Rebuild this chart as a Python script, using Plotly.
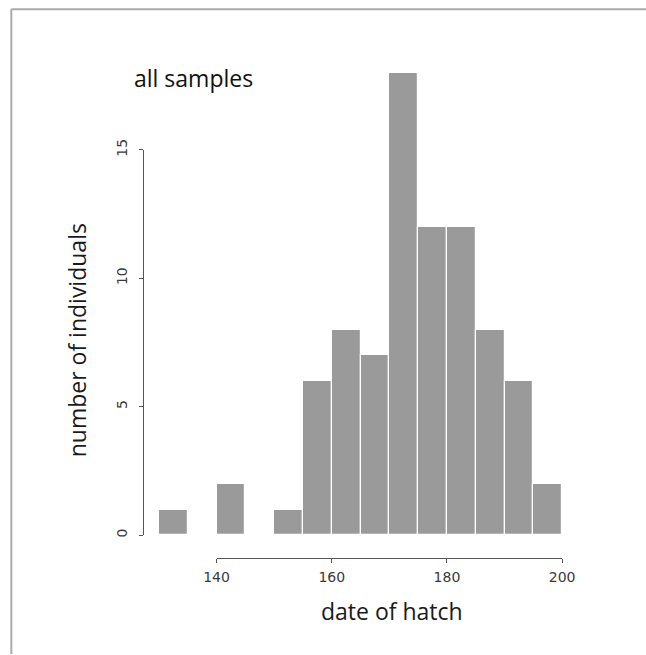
import plotly.graph_objects as go

# Data
bin_edges_left = [130, 135, 140, 145, 150, 155, 160, 165, 170, 175, 180, 185, 190, 195]
bin_width = 5
counts = [1, 0, 2, 0, 1, 6, 8, 7, 18, 12, 12, 8, 6, 2]
x_ticks = [140, 160, 180, 200]
y_ticks = [0, 5, 10, 15]
x_title = "date of hatch"
y_title = "number of individuals"
panel_label = "all samples"

# Effective captured page (body keeps its default 8px margin); the capture is
# scaled to the 646x655 picture.  Small empirical offset correction included.
IMG_W, IMG_H = 646, 655
PAGE_W, PAGE_H, BODY = 666, 670, 8
SX, SY = IMG_W / PAGE_W, IMG_H / PAGE_H
W, H = PAGE_W - 2 * BODY, PAGE_H - 2 * BODY
CX_A, CX_B = 5.0, 0.99   # observed: shown_x ~ CX_A + CX_B * intended_x
CY_A = 3.0               # observed: shown_y ~ CY_A + intended_y


def fx(p):  # reference picture x (px) -> paper fraction
    q = (p - CX_A) / CX_B
    return (q / SX - BODY) / W


def fy(p):  # reference picture y from top (px) -> paper fraction
    q = p - CY_A
    return 1 - (q / SY - BODY) / H


# reference geometry (pixels of the reference picture)
px_x140, px_x200 = 216.3, 562.0
px_y0, px_y15 = 533.7, 149.3
fx0, fx1 = fx(px_x140), fx(px_x200)
fy0, fy1 = fy(px_y0), fy(px_y15)
kx = (x_ticks[-1] - x_ticks[0]) / (fx1 - fx0)
ky = (y_ticks[-1] - y_ticks[0]) / (fy1 - fy0)
xr = [x_ticks[0] - fx0 * kx, x_ticks[0] + (1 - fx0) * kx]
yr = [y_ticks[0] - fy0 * ky, y_ticks[0] + (1 - fy0) * ky]

centers = [e + bin_width / 2 for e in bin_edges_left]

fig = go.Figure()
fig.add_trace(go.Bar(
    x=centers, y=counts, width=[bin_width] * len(counts),
    marker=dict(color="#9a9a9a", line=dict(color="white", width=1.2)),
    xaxis="x", yaxis="y", hoverinfo="skip", showlegend=False,
))
# invisible trace carrying the R-style axes
fig.add_trace(go.Scatter(x=[x_ticks[0], x_ticks[-1]], y=[y_ticks[0], y_ticks[-1]],
                         mode="markers", marker=dict(opacity=0),
                         xaxis="x2", yaxis="y2", hoverinfo="skip", showlegend=False))

tickfont = dict(family="DejaVu Sans, sans-serif", size=14, color="#3a3a3a")
axis_color = "#555555"
fig.update_layout(
    width=W, height=H,
    margin=dict(l=0, r=0, t=0, b=0, pad=0),
    paper_bgcolor="white", plot_bgcolor="rgba(0,0,0,0)",
    bargap=0,
    xaxis=dict(domain=[0, 1], range=xr, visible=False, fixedrange=True),
    yaxis=dict(domain=[0, 1], range=yr, visible=False, fixedrange=True),
    xaxis2=dict(domain=[fx0, fx1], range=[x_ticks[0], x_ticks[-1]],
                anchor="free", position=fy(556), showline=True, linecolor=axis_color,
                linewidth=1, ticks="outside", ticklen=4, tickcolor=axis_color,
                tickvals=x_ticks, ticktext=[str(v) for v in x_ticks], tickfont=tickfont,
                showgrid=False, zeroline=False, ticklabelstandoff=3, fixedrange=True),
    yaxis2=dict(domain=[fy0, fy1], range=[y_ticks[0], y_ticks[-1]],
                anchor="free", position=fx(143), showline=True, linecolor=axis_color,
                linewidth=1, ticks="outside", ticklen=4, tickcolor=axis_color,
                tickvals=y_ticks, ticktext=[str(v) for v in y_ticks], tickfont=tickfont,
                tickangle=-90, showgrid=False, zeroline=False, ticklabelstandoff=7,
                fixedrange=True),
    showlegend=False,
)

titlefont = dict(family="Open Sans, sans-serif", size=23, color="#1a1a1a")
fig.add_annotation(text=x_title, xref="paper", yref="paper", x=fx(391.5), y=fy(609),
                   showarrow=False, font=titlefont, xanchor="center", yanchor="middle")
fig.add_annotation(text=y_title, xref="paper", yref="paper", x=fx(77), y=fy(339),
                   showarrow=False, font=titlefont, textangle=-90, xanchor="center", yanchor="middle")
fig.add_annotation(text=panel_label, xref="paper", yref="paper", x=fx(132), y=fy(78),
                   showarrow=False, font=dict(family="Open Sans, sans-serif", size=23, color="#111111"),
                   xanchor="left", yanchor="middle")

# outer frame (partially visible)
frame = dict(color="#aaaaaa", width=2)
fig.add_shape(type="line", xref="paper", yref="paper", x0=fx(11), x1=fx(11), y0=-0.02, y1=fy(9),
              line=frame)
fig.add_shape(type="line", xref="paper", yref="paper", x0=fx(11), x1=1.02, y0=fy(9), y1=fy(9),
              line=frame)

fig.write_html("out.html", config={"displayModeBar": False})
